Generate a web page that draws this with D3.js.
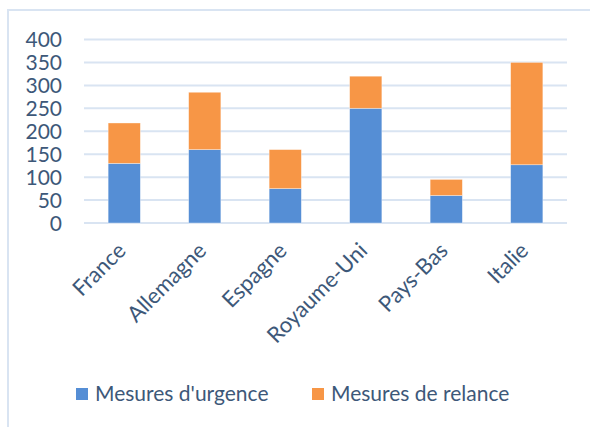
<!DOCTYPE html>
<html>
<head>
<meta charset="utf-8">
<script src="https://cdn.jsdelivr.net/npm/d3@7"></script>
<style>
  body { margin: 0; background: #fff; }
  text { font-family: Lato, "Open Sans", sans-serif; fill: #3d5879; }
</style>
</head>
<body>
<script>
// data
const countries = ["France", "Allemagne", "Espagne", "Royaume-Uni", "Pays-Bas", "Italie"];
const urgence = [130, 160, 75, 250, 60, 127];
const relance = [88, 125, 85, 70, 35, 223];
const seriesNames = ["Mesures d'urgence", "Mesures de relance"];
const seriesColors = ["#558ed5", "#f79646"];
const yTicks = [0, 50, 100, 150, 200, 250, 300, 350, 400];

const width = 590, height = 427;

const svg = d3.select("body").append("svg")
  .attr("width", width)
  .attr("height", height);

// chart frame (only left + top visible in the crop)
svg.append("rect")
  .attr("x", 8).attr("y", 10)
  .attr("width", 620).attr("height", 440)
  .attr("fill", "none")
  .attr("stroke", "#d9e4f2")
  .attr("stroke-width", 2);

const x = d3.scaleBand()
  .domain(countries)
  .range([84, 567])
  .paddingInner(0.6)
  .paddingOuter(0.3);

const y = d3.scaleLinear()
  .domain([0, 400])
  .range([223, 39.5]);

// gridlines
svg.append("g")
  .selectAll("line")
  .data(yTicks)
  .enter().append("line")
  .attr("x1", 84).attr("x2", 567)
  .attr("y1", d => y(d)).attr("y2", d => y(d))
  .attr("stroke", "#d9e4f2")
  .attr("stroke-width", 2);

// y labels
svg.append("g")
  .selectAll("text")
  .data(yTicks)
  .enter().append("text")
  .attr("x", 62)
  .attr("y", d => y(d))
  .attr("dy", "0.36em")
  .attr("text-anchor", "end")
  .style("font-size", "21px")
  .text(d => d);

// stacked bars
const rows = countries.map((c, i) => ({ country: c, u: urgence[i], r: relance[i] }));
const stack = d3.stack().keys(["u", "r"])(rows);

svg.append("g")
  .selectAll("g")
  .data(stack)
  .enter().append("g")
  .attr("fill", (d, i) => seriesColors[i])
  .selectAll("rect")
  .data(d => d)
  .enter().append("rect")
  .attr("x", d => x(d.data.country))
  .attr("y", d => y(d[1]))
  .attr("width", x.bandwidth())
  .attr("height", d => y(d[0]) - y(d[1]))
  .attr("stroke", "#ffffff")
  .attr("stroke-opacity", 0.5)
  .attr("stroke-width", 0.7);

// category labels, rotated
svg.append("g")
  .selectAll("text")
  .data(countries)
  .enter().append("text")
  .attr("transform", d => "translate(" + (x(d) + x.bandwidth() / 2 + 3) + ",252) rotate(-45)")
  .attr("text-anchor", "end")
  .style("font-size", "22px")
  .text(d => d);

// legend
const legend = svg.append("g");
const legendX = [76, 312];
seriesNames.forEach((name, i) => {
  legend.append("rect")
    .attr("x", legendX[i]).attr("y", 388)
    .attr("width", 12).attr("height", 12)
    .attr("fill", seriesColors[i]);
  legend.append("text")
    .attr("x", legendX[i] + 19)
    .attr("y", 401)
    .style("font-size", "21px")
    .text(name);
});
</script>
</body>
</html>
